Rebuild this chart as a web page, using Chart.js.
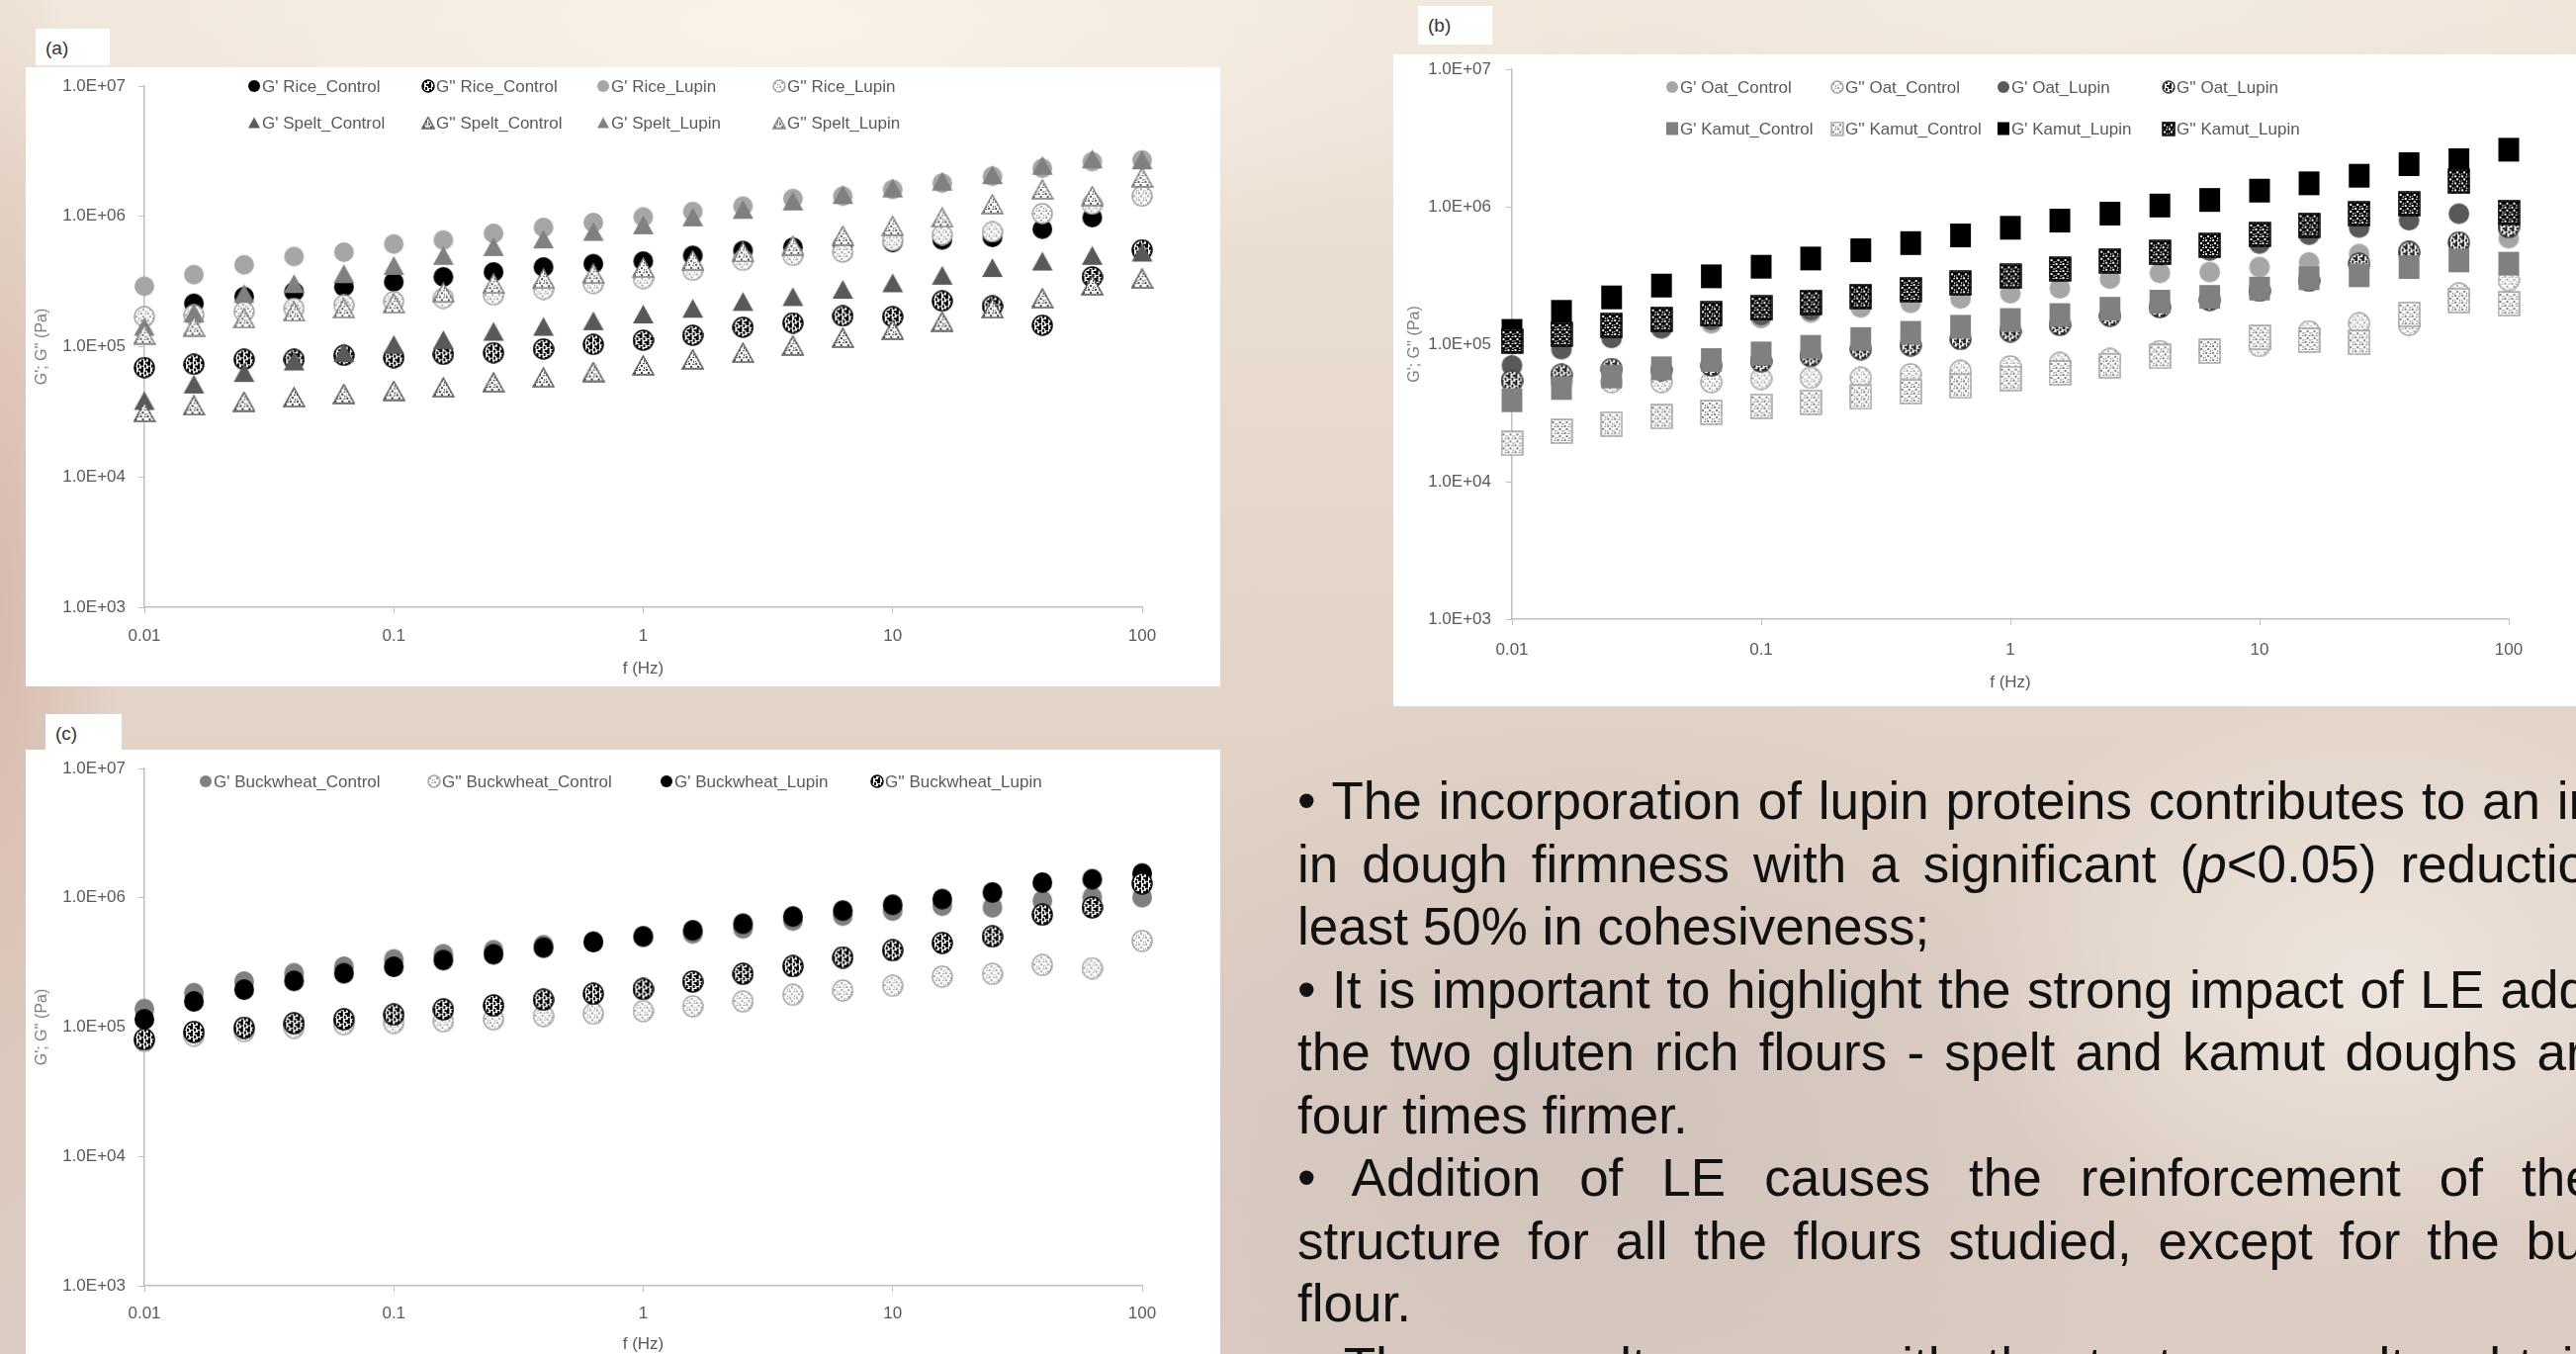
<!DOCTYPE html>
<html>
<head>
<meta charset="utf-8">
<script src="https://cdn.jsdelivr.net/npm/chart.js@4.4.0/dist/chart.umd.min.js"></script>
<style>
html, body { margin: 0; padding: 0; width: 2605px; height: 1369px; overflow: hidden; }
body {
    position: relative;
    background:
        radial-gradient(ellipse 900px 260px at 30% 2%, rgba(250,244,236,0.95), rgba(250,244,236,0) 100%),
        radial-gradient(ellipse 700px 200px at 80% 0%, rgba(244,236,226,0.9), rgba(244,236,226,0) 100%),
        radial-gradient(ellipse 120px 700px at 0% 45%, rgba(214,184,170,0.9), rgba(214,184,170,0) 100%),
        radial-gradient(ellipse 420px 300px at 92% 72%, rgba(238,231,224,0.9), rgba(238,231,224,0) 100%),
        radial-gradient(ellipse 600px 450px at 62% 82%, rgba(200,186,182,0.6), rgba(200,186,182,0) 100%),
        linear-gradient(180deg, #efe4d8 0%, #e4d5c9 45%, #dbcbc2 100%);
    font-family: "Liberation Sans", Arial, sans-serif;
}
.panel { position: absolute; background: #fff; }
.panel canvas { display: block; }
.tag { position: absolute; background: #fff; color: #333; font: 19px "Liberation Sans", Arial, sans-serif; box-sizing: border-box; padding: 9px 0 0 10px; }
.notes { position: absolute; left: 1312px; top: 778px; font: 53px/63.5px "Liberation Sans", Arial, sans-serif; color: #111; }
.notes div { white-space: nowrap; }
.notes .j { white-space: normal; text-align: justify; text-align-last: justify; }
</style>
</head>
<body>

<div class="tag" style="left:36px;top:29px;width:75px;height:37px">(a)</div>
<div class="tag" style="left:1434px;top:6px;width:75px;height:39px">(b)</div>
<div class="tag" style="left:46px;top:722px;width:77px;height:36px">(c)</div>

<div class="panel" style="left:26px;top:68px;width:1208px;height:626px"><canvas id="chartA" width="1208" height="626"></canvas></div>
<div class="panel" style="left:1409px;top:55px;width:1196px;height:659px"><canvas id="chartB" width="1196" height="659"></canvas></div>
<div class="panel" style="left:26px;top:758px;width:1208px;height:622px"><canvas id="chartC" width="1208" height="622"></canvas></div>

<div class="notes">
    <div class="j" style="width:1474px">• The incorporation of lupin proteins contributes to an increase</div>
    <div class="j" style="width:1470px">in dough firmness with a significant (<i>p</i>&lt;0.05) reduction of at</div>
    <div>least 50% in cohesiveness;</div>
    <div class="j" style="width:1460px">• It is important to highlight the strong impact of LE addition in</div>
    <div class="j" style="width:1483px">the two gluten rich flours - spelt and kamut doughs are about</div>
    <div>four times firmer.</div>
    <div class="j" style="width:1498px">• Addition of LE causes the reinforcement of the dough</div>
    <div class="j" style="width:1496px">structure for all the flours studied, except for the buckwheat</div>
    <div>flour.</div>
    <div class="j" style="width:1470px">• These results agree with the texture results obtained for doughs</div>
</div>

<script>
// ===== FREQUENCES ET AXES =====
const freqs = [0.01, 0.0158, 0.0251, 0.0398, 0.0631, 0.1, 0.158, 0.251, 0.398, 0.631, 1, 1.58, 2.51, 3.98, 6.31, 10, 15.8, 25.1, 39.8, 63.1, 100]
const xTicks = [0.01, 0.1, 1, 10, 100]
const xTickLabels = ['0.01', '0.1', '1', '10', '100']
const yTicks = [1e3, 1e4, 1e5, 1e6, 1e7]
const yTickLabels = ['1.0E+03', '1.0E+04', '1.0E+05', '1.0E+06', '1.0E+07']

// ===== (a) RICE / SPELT =====
const riceControlG1 = [1.70e5, 2.15e5, 2.42e5, 2.64e5, 2.88e5, 3.14e5, 3.43e5, 3.74e5, 4.08e5, 4.33e5, 4.53e5, 5.01e5, 5.46e5, 5.79e5, 6.0e5, 6.3e5, 6.6e5, 6.9e5, 7.98e5, 9.8e5, 1.43e6]
const riceControlG2 = [6.91e4, 7.32e4, 7.99e4, 7.99e4, 8.58e4, 8.23e4, 8.73e4, 8.98e4, 9.6e4, 1.04e5, 1.12e5, 1.22e5, 1.41e5, 1.52e5, 1.72e5, 1.70e5, 2.24e5, 2.05e5, 1.46e5, 3.43e5, 5.53e5]
const riceLupinG1 = [2.91e5, 3.57e5, 4.25e5, 4.92e5, 5.31e5, 6.14e5, 6.58e5, 7.40e5, 8.22e5, 8.97e5, 9.9e5, 1.09e6, 1.20e6, 1.37e6, 1.43e6, 1.61e6, 1.80e6, 2.03e6, 2.34e6, 2.63e6, 2.71e6]
const riceLupinG2 = [1.70e5, 1.75e5, 1.86e5, 1.97e5, 2.09e5, 2.22e5, 2.35e5, 2.49e5, 2.75e5, 3.05e5, 3.33e5, 3.85e5, 4.59e5, 5.01e5, 5.31e5, 6.51e5, 7.2e5, 7.6e5, 1.05e6, 1.24e6, 1.43e6]
const speltControlG1 = [3.86e4, 5.16e4, 6.33e4, 7.76e4, 8.98e4, 1.04e5, 1.13e5, 1.31e5, 1.43e5, 1.58e5, 1.78e5, 1.97e5, 2.22e5, 2.42e5, 2.75e5, 3.09e5, 3.53e5, 4.04e5, 4.53e5, 5.01e5, 5.31e5]
const speltControlG2 = [3.15e4, 3.54e4, 3.79e4, 4.09e4, 4.34e4, 4.59e4, 4.87e4, 5.32e4, 5.80e4, 6.40e4, 7.19e4, 7.99e4, 8.98e4, 1.02e5, 1.17e5, 1.35e5, 1.56e5, 1.97e5, 2.35e5, 2.96e5, 3.33e5]
const speltLupinG1 = [1.43e5, 1.81e5, 2.56e5, 3.05e5, 3.63e5, 4.20e5, 5.01e5, 5.86e5, 6.70e5, 7.66e5, 8.61e5, 9.9e5, 1.13e6, 1.31e6, 1.47e6, 1.65e6, 1.86e6, 2.09e6, 2.46e6, 2.76e6, 2.71e6]
const speltLupinG2 = [1.24e5, 1.43e5, 1.65e5, 1.86e5, 1.97e5, 2.15e5, 2.6e5, 3.05e5, 3.33e5, 3.63e5, 4.04e5, 4.59e5, 5.31e5, 5.97e5, 7.10e5, 8.46e5, 9.8e5, 1.24e6, 1.61e6, 1.43e6, 1.99e6]

// ===== (b) OAT / KAMUT =====
const oatControlG1 = [1.0e5, 1.1e5, 1.2e5, 1.3e5, 1.42e5, 1.55e5, 1.7e5, 1.85e5, 2.0e5, 2.15e5, 2.35e5, 2.55e5, 3.0e5, 3.3e5, 3.35e5, 3.64e5, 3.93e5, 4.52e5, 4.8e5, 5.2e5, 5.9e5]
const oatControlG2 = [5.5e4, 5.4e4, 5.3e4, 5.3e4, 5.3e4, 5.6e4, 5.7e4, 5.7e4, 6.05e4, 6.4e4, 6.9e4, 7.3e4, 7.8e4, 8.9e4, 9.2e4, 9.7e4, 1.24e5, 1.42e5, 1.38e5, 2.34e5, 2.92e5]
const oatLupinG1 = [7.0e4, 9.2e4, 1.11e5, 1.31e5, 1.50e5, 1.63e5, 1.77e5, 2.15e5, 2.4e5, 2.68e5, 3.0e5, 3.4e5, 3.9e5, 4.45e5, 4.8e5, 5.4e5, 6.26e5, 7.06e5, 7.98e5, 8.9e5, 8.8e5]
const oatLupinG2 = [5.4e4, 6.0e4, 6.6e4, 6.5e4, 7.0e4, 7.5e4, 8.2e4, 9.2e4, 9.8e4, 1.09e5, 1.24e5, 1.38e5, 1.61e5, 1.86e5, 2.1e5, 2.45e5, 2.9e5, 3.85e5, 4.67e5, 5.5e5, 7.1e5]
const kamutControlG1 = [3.91e4, 4.8e4, 5.82e4, 6.68e4, 7.67e4, 8.57e4, 9.57e4, 1.09e5, 1.21e5, 1.34e5, 1.50e5, 1.63e5, 1.81e5, 2.04e5, 2.21e5, 2.54e5, 3.02e5, 3.17e5, 3.64e5, 4.07e5, 3.85e5]
const kamutControlG2 = [1.90e4, 2.33e4, 2.63e4, 2.97e4, 3.19e4, 3.54e4, 3.78e4, 4.13e4, 4.52e4, 4.96e4, 5.63e4, 6.19e4, 6.98e4, 8.15e4, 8.9e4, 1.12e5, 1.07e5, 1.03e5, 1.65e5, 2.08e5, 1.97e5]
const kamutLupinG1 = [1.25e5, 1.72e5, 2.19e5, 2.67e5, 3.12e5, 3.66e5, 4.2e5, 4.82e5, 5.44e5, 6.18e5, 7.03e5, 7.93e5, 8.91e5, 1.02e6, 1.12e6, 1.31e6, 1.48e6, 1.68e6, 2.04e6, 2.18e6, 2.60e6]
const kamutLupinG2 = [1.05e5, 1.18e5, 1.37e5, 1.52e5, 1.66e5, 1.84e5, 2.02e5, 2.23e5, 2.49e5, 2.78e5, 3.12e5, 3.52e5, 4.04e5, 4.65e5, 5.24e5, 6.29e5, 7.35e5, 8.91e5, 1.05e6, 1.53e6, 9.1e5]

// ===== (c) BUCKWHEAT =====
const buckControlG1 = [1.38e5, 1.83e5, 2.25e5, 2.61e5, 2.93e5, 3.34e5, 3.66e5, 3.93e5, 4.30e5, 4.6e5, 5.0e5, 5.3e5, 5.8e5, 6.67e5, 7.28e5, 7.96e5, 8.69e5, 8.44e5, 9.5e5, 1.01e6, 1.01e6]
const buckControlG2 = [7.8e4, 8.6e4, 9.3e4, 9.9e4, 1.05e5, 1.08e5, 1.11e5, 1.15e5, 1.22e5, 1.27e5, 1.33e5, 1.45e5, 1.58e5, 1.78e5, 1.92e5, 2.09e5, 2.46e5, 2.58e5, 3.02e5, 2.85e5, 4.64e5]
const buckLupinG1 = [1.15e5, 1.58e5, 1.95e5, 2.28e5, 2.61e5, 2.93e5, 3.30e5, 3.66e5, 4.12e5, 4.55e5, 5.03e5, 5.6e5, 6.3e5, 7.16e5, 7.96e5, 8.84e5, 9.77e5, 1.10e6, 1.31e6, 1.39e6, 1.54e6]
const buckLupinG2 = [8.05e4, 9.17e4, 9.9e4, 1.07e5, 1.15e5, 1.25e5, 1.37e5, 1.47e5, 1.63e5, 1.81e5, 1.97e5, 2.25e5, 2.58e5, 2.96e5, 3.46e5, 3.93e5, 4.48e5, 5.03e5, 7.41e5, 8.44e5, 1.29e6]

const police = '"Liberation Sans", Arial, sans-serif'
const gris = '#595959'

// ===== MARQUEURS (motifs Excel) =====
const motifDense = [[0, 0, 3, 2], [4, 1, 2, 3], [1, 3, 2, 2], [5, 5, 2, 2], [0, 5, 3, 2]]
const motifLeger = [[0, 0, 2, 2], [4, 1, 2, 1], [2, 3, 2, 2], [5, 5, 1, 2], [0, 5, 1, 1]]

function motif(couleur, inverse) {
    const c = document.createElement('canvas')
    c.width = 7; c.height = 7
    const g = c.getContext('2d')
    g.fillStyle = inverse ? couleur : '#fff'
    g.fillRect(0, 0, 7, 7)
    g.fillStyle = inverse ? '#fff' : couleur
    const dense = !inverse && (couleur === '#000' || couleur === '#262626')
    ;(dense ? motifDense : motifLeger).forEach(p => g.fillRect(p[0], p[1], p[2], p[3]))
    return c
}

function marqueur(forme, w, h, remplissage, contour, points, inverse) {
    const c = document.createElement('canvas')
    c.width = w + 2; c.height = h + 2
    const g = c.getContext('2d')
    g.beginPath()
    if (forme === 'circle') g.ellipse(c.width / 2, c.height / 2, w / 2, h / 2, 0, 0, Math.PI * 2)
    else if (forme === 'triangle') { g.moveTo(c.width / 2, 1); g.lineTo(w + 1, h + 1); g.lineTo(1, h + 1); g.closePath() }
    else g.rect(1, 1, w, h)
    g.fillStyle = points ? g.createPattern(motif(points, inverse), 'repeat') : remplissage
    g.fill()
    if (contour) { g.lineWidth = 1.5; g.strokeStyle = contour; g.stroke() }
    return c
}

// style = [forme, remplissage, contour, points, inverse]
function serie(label, valeurs, style, taille, tailleLegende) {
    return {
        label: label,
        data: freqs.map((f, i) => ({ x: f, y: valeurs[i] })),
        pointStyle: marqueur(style[0], taille[0], taille[1], style[1], style[2], style[3], style[4]),
        icone: marqueur(style[0], tailleLegende[0], tailleLegende[1], style[1], style[2], style[3], style[4]),
        pointRadius: 10,
        showLine: false,
        clip: false
    }
}

// ===== LEGENDE EN GRILLE =====
const legendeGrille = {
    id: 'legendeGrille',
    afterDraw(chart, args, opts) {
        const ctx = chart.ctx
        ctx.save()
        ctx.font = '17px ' + police
        ctx.fillStyle = gris
        ctx.textBaseline = 'middle'
        chart.data.datasets.forEach((d, i) => {
            const x = opts.cols[i % opts.cols.length]
            const y = opts.rows[Math.floor(i / opts.cols.length)]
            ctx.drawImage(d.icone, x - d.icone.width / 2, y - d.icone.height / 2)
            ctx.fillText(d.label, x + 8, y + 1)
        })
        ctx.restore()
    }
}

function graphique(id, datasets, p) {
    datasets.forEach((d, i) => { d.order = datasets.length - i })
    return new Chart(document.getElementById(id), {
        type: 'scatter',
        data: { datasets: datasets },
        plugins: [legendeGrille],
        options: {
            responsive: false,
            animation: false,
            events: [],
            layout: { autoPadding: false, padding: { top: p.haut, right: p.droite, left: 0, bottom: 0 } },
            plugins: {
                legend: { display: false },
                tooltip: { enabled: false },
                legendeGrille: { cols: p.cols, rows: p.rows }
            },
            scales: {
                x: {
                    type: 'logarithmic',
                    min: 0.01, max: 100,
                    afterBuildTicks: s => { s.ticks = xTicks.map(v => ({ value: v })) },
                    afterFit: s => { s.height = p.hautX },
                    ticks: { callback: (v, i) => xTickLabels[i], autoSkip: false, maxRotation: 0, padding: p.padX, color: gris, font: { family: police, size: 17 } },
                    grid: { drawOnChartArea: false, drawTicks: true, tickLength: 6, color: '#bfbfbf' },
                    border: { color: '#bfbfbf', width: 1.5 },
                    title: { display: true, text: 'f (Hz)', color: gris, font: { family: police, size: 17 }, padding: { top: 0, bottom: p.titreX } }
                },
                y: {
                    type: 'logarithmic',
                    min: 1e3, max: 1e7,
                    afterBuildTicks: s => { s.ticks = yTicks.map(v => ({ value: v })) },
                    afterFit: s => { s.width = 120; s.paddingTop = 10; s.paddingBottom = 10 },
                    ticks: { callback: (v, i) => yTickLabels[i], autoSkip: false, padding: p.padY, color: gris, font: { family: police, size: 17 } },
                    grid: { drawOnChartArea: false, drawTicks: true, tickLength: 6, color: '#bfbfbf' },
                    border: { color: '#bfbfbf', width: 1.5 },
                    title: { display: true, text: "G'; G'' (Pa)", color: '#7f7f7f', font: { family: police, size: 16 }, padding: { top: p.titreY, bottom: 0 } }
                }
            }
        }
    })
}

// ===== GRAPHIQUE (a) =====
const rond = [20, 20], tri = [21, 19], petitRond = [12, 12], petitTri = [12, 11]
graphique('chartA', [
    serie("G' Rice_Control", riceControlG1, ['circle', '#000'], rond, petitRond),
    serie("G'' Rice_Control", riceControlG2, ['circle', null, '#000', '#000'], rond, petitRond),
    serie("G' Rice_Lupin", riceLupinG1, ['circle', '#a6a6a6'], rond, petitRond),
    serie("G'' Rice_Lupin", riceLupinG2, ['circle', null, '#a6a6a6', '#a6a6a6'], rond, petitRond),
    serie("G' Spelt_Control", speltControlG1, ['triangle', '#595959'], tri, petitTri),
    serie("G'' Spelt_Control", speltControlG2, ['triangle', null, '#595959', '#404040'], tri, petitTri),
    serie("G' Spelt_Lupin", speltLupinG1, ['triangle', '#808080'], tri, petitTri),
    serie("G'' Spelt_Lupin", speltLupinG2, ['triangle', null, '#808080', '#595959'], tri, petitTri)
], { haut: 19, droite: 79, hautX: 80, padX: 13, titreX: 7, padY: 13, titreY: 7, cols: [231, 407, 584, 762], rows: [19, 56] })

// ===== GRAPHIQUE (b) =====
const carre = [21, 24], petitCarre = [12, 13]
graphique('chartB', [
    serie("G' Oat_Control", oatControlG1, ['circle', '#a6a6a6'], [21, 21], petitRond),
    serie("G'' Oat_Control", oatControlG2, ['circle', null, '#a6a6a6', '#a6a6a6'], [21, 21], petitRond),
    serie("G' Oat_Lupin", oatLupinG1, ['circle', '#595959'], [21, 21], petitRond),
    serie("G'' Oat_Lupin", oatLupinG2, ['circle', null, '#404040', '#262626'], [21, 21], petitRond),
    serie("G' Kamut_Control", kamutControlG1, ['rect', '#808080'], carre, petitCarre),
    serie("G'' Kamut_Control", kamutControlG2, ['rect', null, '#a6a6a6', '#7f7f7f'], carre, petitCarre),
    serie("G' Kamut_Lupin", kamutLupinG1, ['rect', '#000'], carre, petitCarre),
    serie("G'' Kamut_Lupin", kamutLupinG2, ['rect', null, '#000', '#000', true], carre, petitCarre)
], { haut: 15, droite: 68, hautX: 88, padX: 15, titreX: 13, padY: 15, titreY: 12, cols: [282, 449, 617, 784], rows: [33, 75] })

// ===== GRAPHIQUE (c) =====
graphique('chartC', [
    serie("G' Buckwheat_Control", buckControlG1, ['circle', '#808080'], [20, 21], petitRond),
    serie("G'' Buckwheat_Control", buckControlG2, ['circle', null, '#a6a6a6', '#a6a6a6'], [20, 21], petitRond),
    serie("G' Buckwheat_Lupin", buckLupinG1, ['circle', '#000'], [20, 21], petitRond),
    serie("G'' Buckwheat_Lupin", buckLupinG2, ['circle', null, '#000', '#000'], [20, 21], petitRond)
], { haut: 19, droite: 79, hautX: 80, padX: 12, titreX: 10, padY: 13, titreY: 7, cols: [182, 413, 648, 861], rows: [32] })
</script>
</body>
</html>
